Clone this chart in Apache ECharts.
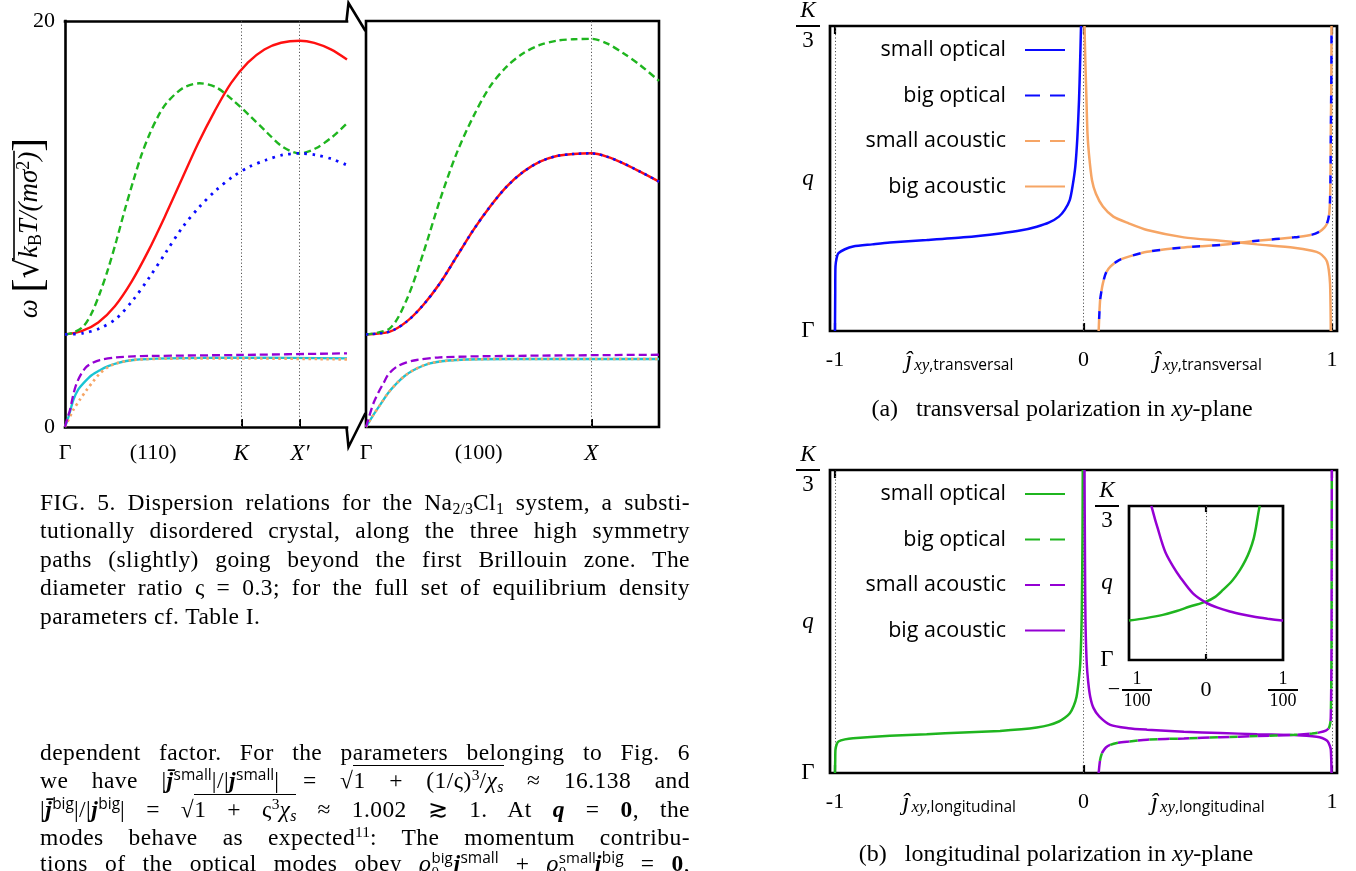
<!DOCTYPE html>
<html>
<head>
<meta charset="utf-8">
<title>Dispersion relations</title>
<script src="https://cdn.jsdelivr.net/npm/echarts@6/dist/echarts.min.js"></script>
<style>
html,body{margin:0;padding:0;background:#fff;}
#wrap{position:relative;width:1356px;height:871px;overflow:hidden;background:#fff;}
#chart{position:absolute;left:0;top:0;width:1356px;height:871px;}
.ln{position:absolute;left:40px;width:650px;height:29px;line-height:29px;font-family:'Liberation Serif',serif;font-size:23.5px;letter-spacing:0.45px;color:#000;text-align:justify;text-align-last:justify;white-space:nowrap;}
.ln.last{text-align:left;text-align-last:left;}
.sb{font-size:0.68em;vertical-align:-0.28em;line-height:0;letter-spacing:0;}
.sp{font-size:0.66em;vertical-align:0.5em;line-height:0;letter-spacing:0;}
.sans{font-family:'Open Sans',sans-serif;}
.ov{border-top:1.5px solid #000;padding-top:1px;line-height:1;}
.stk{position:relative;display:inline-block;height:16px;vertical-align:baseline;}
.stk .u,.stk .d{position:absolute;left:0;font-size:15px;line-height:15px;letter-spacing:0;}
.stk .u{bottom:6px;}
.stk .d{top:10px;}
</style>
</head>
<body>
<div id="wrap">
  <div id="chart"></div>
  <div class="ln" style="top:488px">FIG. 5. Dispersion relations for the Na<span class="sb">2/3</span>Cl<span class="sb">1</span> system, a substi-</div>
  <div class="ln" style="top:516px">tutionally disordered crystal, along the three high symmetry</div>
  <div class="ln" style="top:545px">paths (slightly) going beyond the first Brillouin zone. The</div>
  <div class="ln" style="top:573px">diameter ratio ς = 0.3; for the full set of equilibrium density</div>
  <div class="ln last" style="top:602px">parameters cf. Table I.</div>

  <div class="ln" style="top:738px">dependent factor. For the parameters belonging to Fig. 6</div>
  <div class="ln" style="top:766px">we have |<b><i>j̄</i></b><span class="sp sans">small</span>|/|<b><i>j</i></b><span class="sp sans">small</span>| = √<span class="ov">1 + (1/ς)<span class="sp">3</span>/<i>χ</i><span class="sb"><i>s</i></span></span> ≈ 16.138 and</div>
  <div class="ln" style="top:795px">|<b><i>j̄</i></b><span class="sp sans">big</span>|/|<b><i>j</i></b><span class="sp sans">big</span>| = √<span class="ov">1 + ς<span class="sp">3</span><i>χ</i><span class="sb"><i>s</i></span></span> ≈ 1.002 ≳ 1. At <b><i>q</i></b> = <b>0</b>, the</div>
  <div class="ln" style="top:823px">modes behave as expected<span class="sp">11</span>: The momentum contribu-</div>
  <div class="ln" style="top:849px">tions of the optical modes obey <i>ϱ</i><span class="stk" style="width:22px"><span class="u sans">big</span><span class="d">0</span></span><b><i>j</i></b><span class="sp sans">small</span> + <i>ϱ</i><span class="stk" style="width:36px"><span class="u sans">small</span><span class="d">0</span></span><b><i>j</i></b><span class="sp sans">big</span> = <b>0</b>,</div>
</div>
<script>
// ---------------- data ----------------
// left panel 1: path (110), q from Γ, omega values
const p110Max = 1.697;
const p110LabelValues = [0, 0.53, 1.0607, 1.4142];
const p110Labels = ['Γ', '(110)', 'K', 'X′'];
const p110Marks = [1.0607, 1.4142];
const p110Red = [[0,4.56],[0.1,4.72],[0.2,5.15],[0.3,5.95],[0.4,7.15],[0.5,8.65],[0.6,10.35],[0.7,12.15],[0.8,13.95],[0.9,15.55],[1.0,16.95],[1.1,17.95],[1.2,18.6],[1.3,18.93],[1.414,19.03],[1.5,18.92],[1.6,18.6],[1.697,18.1]];
const p110Green = [[0,4.56],[0.05,4.65],[0.11,4.95],[0.16,5.6],[0.21,6.6],[0.26,7.8],[0.31,9.2],[0.36,10.7],[0.41,12.1],[0.46,13.4],[0.51,14.45],[0.56,15.3],[0.61,15.95],[0.71,16.7],[0.81,16.93],[0.91,16.73],[1.01,16.1],[1.11,15.35],[1.21,14.55],[1.31,13.8],[1.414,13.48],[1.51,13.73],[1.61,14.3],[1.697,14.96]];
const p110Blue = [[0,4.56],[0.11,4.62],[0.21,4.86],[0.31,5.35],[0.41,6.26],[0.51,7.4],[0.61,8.64],[0.71,9.87],[0.81,10.85],[0.91,11.67],[1.01,12.33],[1.11,12.82],[1.21,13.15],[1.31,13.4],[1.414,13.48],[1.51,13.4],[1.61,13.19],[1.697,12.9]];
const p110Purple = [[0,0],[0.015,0.45],[0.03,0.84],[0.05,1.6],[0.07,2.15],[0.1,2.65],[0.13,2.97],[0.17,3.18],[0.21,3.3],[0.31,3.43],[0.41,3.48],[0.51,3.5],[1.06,3.55],[1.697,3.63]];
const p110Cyan = [[0,0],[0.025,0.6],[0.05,1.33],[0.08,1.85],[0.11,2.15],[0.16,2.55],[0.21,2.8],[0.26,3.0],[0.31,3.14],[0.41,3.3],[0.61,3.38],[1.06,3.42],[1.697,3.38]];
const p110Orange = [[0,0],[0.05,0.84],[0.09,1.35],[0.13,1.82],[0.17,2.25],[0.21,2.64],[0.26,2.95],[0.31,3.14],[0.41,3.3],[0.61,3.37],[1.06,3.38],[1.697,3.33]];
// left panel 2: path (100)
const p100Max = 1.3;
const p100LabelValues = [0, 0.5, 1.0];
const p100Labels = ['Γ', '(100)', 'X'];
const p100Marks = [1.0];
const p100Green = [[0,4.56],[0.106,4.86],[0.18,6.26],[0.254,8.56],[0.328,11.18],[0.402,13.48],[0.476,15.29],[0.55,16.77],[0.624,17.75],[0.698,18.41],[0.772,18.82],[0.846,19.03],[0.92,19.1],[1.0,19.12],[1.068,18.9],[1.142,18.41],[1.216,17.83],[1.3,17.05]];
const p100RedBlue = [[0,4.56],[0.106,4.7],[0.18,5.19],[0.254,6.01],[0.328,7.08],[0.402,8.39],[0.476,9.7],[0.55,10.85],[0.624,11.84],[0.698,12.57],[0.772,13.07],[0.846,13.35],[0.92,13.45],[1.0,13.48],[1.068,13.32],[1.142,12.99],[1.216,12.58],[1.3,12.09]];
const p100Purple = [[0,0],[0.015,0.55],[0.033,1.17],[0.055,1.7],[0.077,2.15],[0.1,2.6],[0.136,2.97],[0.18,3.18],[0.225,3.3],[0.328,3.43],[0.624,3.5],[1.3,3.56]];
const p100CyanOrange = [[0,0],[0.03,0.55],[0.062,1.08],[0.1,1.7],[0.136,2.15],[0.17,2.5],[0.21,2.8],[0.284,3.14],[0.402,3.3],[0.624,3.35],[1.3,3.35]];
const omegaMin = 0, omegaMax = 20;

// right panels: polarisation component j (x) vs q (y)
const jValues = [-1, -0.5, 0, 0.5, 1];
const jLabels = ['-1', 'J', '0', 'J', '1'];
const jMarks = [-1, 0, 1];
const qValues = [0, 0.5, 1];
const qLabels = ['Γ', 'q', 'K/3'];
const seriesNames = ['small optical', 'big optical', 'small acoustic', 'big acoustic'];

const aSmallOptical = [[-1.0,0.0],[-0.999,0.12],[-0.998,0.211],[-0.993,0.24],[-0.986,0.255],[-0.96,0.268],[-0.927,0.277],[-0.85,0.284],[-0.779,0.29],[-0.631,0.298],[-0.483,0.307],[-0.336,0.32],[-0.25,0.33],[-0.188,0.342],[-0.14,0.355],[-0.099,0.375],[-0.075,0.398],[-0.055,0.43],[-0.043,0.48],[-0.033,0.539],[-0.025,0.63],[-0.018,0.757],[-0.014,0.87],[-0.010,1.0]];
const aBigAcoustic = [[0.004,1.0],[0.008,0.87],[0.012,0.757],[0.016,0.648],[0.022,0.58],[0.034,0.495],[0.05,0.45],[0.078,0.408],[0.12,0.375],[0.182,0.353],[0.256,0.331],[0.404,0.307],[0.551,0.296],[0.699,0.284],[0.847,0.273],[0.92,0.263],[0.95,0.255],[0.97,0.24],[0.98,0.227],[0.987,0.2],[0.992,0.156],[0.994,0.08],[0.995,0.0]];
const aBigOptical = [[0.061,0.0],[0.064,0.06],[0.067,0.102],[0.072,0.13],[0.078,0.156],[0.09,0.19],[0.108,0.211],[0.14,0.231],[0.182,0.244],[0.256,0.26],[0.404,0.274],[0.551,0.282],[0.699,0.296],[0.847,0.307],[0.92,0.316],[0.95,0.326],[0.97,0.34],[0.98,0.353],[0.988,0.38],[0.992,0.43],[0.994,0.52],[0.995,0.648],[0.997,0.8],[0.998,1.0]];
const aSmallAcoustic = aBigOptical.map(p => p.slice());

const bSmallOptical = [[-1.0,0.0],[-0.999,0.04],[-0.998,0.077],[-0.993,0.095],[-0.986,0.104],[-0.96,0.111],[-0.927,0.115],[-0.779,0.123],[-0.631,0.128],[-0.483,0.134],[-0.336,0.139],[-0.25,0.144],[-0.188,0.150],[-0.14,0.158],[-0.099,0.170],[-0.075,0.182],[-0.055,0.197],[-0.04,0.22],[-0.028,0.252],[-0.02,0.3],[-0.013,0.362],[-0.007,0.526],[-0.004,0.8],[-0.003,1.0]];
const bBigAcoustic = [[0.004,1.0],[0.006,0.7],[0.008,0.5],[0.013,0.362],[0.019,0.3],[0.027,0.252],[0.04,0.215],[0.064,0.186],[0.108,0.159],[0.18,0.148],[0.256,0.143],[0.404,0.136],[0.551,0.132],[0.699,0.128],[0.847,0.125],[0.92,0.121],[0.95,0.118],[0.97,0.112],[0.983,0.104],[0.991,0.09],[0.995,0.077],[0.997,0.04],[0.998,0.0]];
const bBigOptical = [[0.061,0.0],[0.064,0.025],[0.067,0.044],[0.072,0.06],[0.078,0.071],[0.09,0.084],[0.108,0.093],[0.14,0.1],[0.182,0.104],[0.256,0.11],[0.404,0.114],[0.551,0.118],[0.699,0.122],[0.847,0.126],[0.92,0.13],[0.95,0.134],[0.975,0.14],[0.987,0.148],[0.993,0.165],[0.995,0.186],[0.997,0.3],[0.998,0.47],[0.999,1.0]];
const bSmallAcoustic = bBigOptical.map(p => p.slice());

// inset of (b)
const insetValues = [-0.01, 0, 0.01];
const insetLabels = ['−1/100', '0', '1/100'];
const insetMarks = [0];
const insetSmallOptical = [[-0.01,0.256],[-0.0078,0.272],[-0.0056,0.293],[-0.0038,0.318],[-0.0021,0.347],[0,0.379],[0.0012,0.41],[0.0022,0.455],[0.0034,0.515],[0.0044,0.584],[0.0051,0.645],[0.0057,0.713],[0.0062,0.79],[0.0065,0.864],[0.0069,0.983],[0.007,1.0]];
const insetBigAcoustic = [[-0.0071,1.0],[-0.007,0.983],[-0.0066,0.91],[-0.0062,0.843],[-0.0057,0.76],[-0.0052,0.692],[-0.0043,0.61],[-0.0034,0.541],[-0.0017,0.433],[0,0.373],[0.0015,0.34],[0.0031,0.315],[0.0046,0.297],[0.0061,0.282],[0.008,0.268],[0.0099,0.256],[0.01,0.255]];

// ---------------- styling ----------------
const SERIF = 'Liberation Serif';
const SANS = 'Open Sans';
const COL = {red:'#ff1010', green:'#1fb51f', blue:'#0a0aff', purple:'#9400d3', cyan:'#18c4d4', orange:'#f6a565', grey:'#555'};

function near(a, b) { return Math.abs(a - b) < 1e-6; }
function idxOf(arr, v) { for (let i = 0; i < arr.length; i++) if (near(arr[i], v)) return i; return -1; }
const mctx = document.createElement('canvas').getContext('2d');
function tw(font, s) { mctx.font = font; return mctx.measureText(s).width; }

const fracRich = {
  k: {fontFamily: SERIF, fontStyle: 'italic', fontSize: 23, lineHeight: 26, width: 26, align: 'center', color: '#000'},
  bar: {fontSize: 1, lineHeight: 4, height: 2, width: 24, backgroundColor: '#000'},
  t: {fontFamily: SERIF, fontSize: 23, lineHeight: 26, width: 26, align: 'center', color: '#000'},
  g: {fontFamily: SERIF, fontSize: 23, color: '#000'},
  q: {fontFamily: SERIF, fontStyle: 'italic', fontSize: 23, color: '#000'}
};
function qFormatter(v) {
  const s = qLabels[idxOf(qValues, v)];
  if (s === 'K/3') return '{k|K}\n{bar| }\n{t|3}';
  if (s === 'q') return '{q|q}';
  return '{g|' + s + '}';
}
function jFormatter(word) {
  return function (v) {
    const s = jLabels[idxOf(jValues, v)];
    if (s === 'J') return '{j|ĵ}{x|xy}{s|,' + word + '}';
    return '{n|' + s + '}';
  };
}
const jRich = {
  n: {fontFamily: SERIF, fontSize: 22, lineHeight: 28, color: '#000'},
  j: {fontFamily: SERIF, fontStyle: 'italic', fontSize: 25, lineHeight: 28, verticalAlign: 'bottom', color: '#000'},
  x: {fontFamily: SERIF, fontStyle: 'italic', fontSize: 17, lineHeight: 14, verticalAlign: 'bottom', color: '#000', padding: [0, 0, 0, 2]},
  s: {fontFamily: SANS, fontSize: 15.5, lineHeight: 14, verticalAlign: 'bottom', color: '#000'}
};
function pathFormatter(values, labels) {
  return function (v) {
    const s = labels[idxOf(values, v)];
    if (s === 'K' || s === 'X′' || s === 'X') return '{i|' + s + '}';
    return '{r|' + s + '}';
  };
}
const pathRich = {
  r: {fontFamily: SERIF, fontSize: 22, color: '#000'},
  i: {fontFamily: SERIF, fontStyle: 'italic', fontSize: 23, color: '#000'}
};
function insetFormatter(v) {
  const s = insetLabels[idxOf(insetValues, v)];
  if (s === '0') return '{z|0}';
  const parts = s.replace('−', '').split('/');
  if (s.charAt(0) === '−') return '{pad| }{num|' + parts[0] + '}\n{m|−}{bar| }\n{pad| }{num|' + parts[1] + '}';
  return '{num|' + parts[0] + '}\n{bar| }\n{num|' + parts[1] + '}';
}
const insetRich = {
  z: {fontFamily: SERIF, fontSize: 22, lineHeight: 40, color: '#000'},
  num: {fontFamily: SERIF, fontSize: 18, lineHeight: 18, width: 32, align: 'center', color: '#000'},
  pad: {fontSize: 1, lineHeight: 18, width: 16},
  m: {fontFamily: SERIF, fontSize: 22, lineHeight: 4, width: 16, align: 'center', color: '#000'},
  bar: {fontSize: 1, lineHeight: 4, height: 2, width: 30, backgroundColor: '#000'}
};

// y-axis title of the dispersion panels: ω [ √(k_B T/(m σ²)) ] with measured vinculum
const NF = 27, NBR = 42, NRT = 32, NSS = 18;
const fIt = 'italic ' + NF + 'px "' + SERIF + '"';
const fRm = NF + 'px "' + SERIF + '"';
const wOmega = tw(fIt, 'ω') + tw(fRm, ' ') + tw(NBR + 'px "' + SERIF + '"', '[') + tw(NRT + 'px "DejaVu Serif"', '√');
const wRad = tw(fIt, 'k') + tw(NSS + 'px "' + SERIF + '"', 'B') + tw(fIt, 'T/(mσ') + tw(NSS + 'px "' + SERIF + '"', '2') + tw(fIt, ')');
const wEnd = tw(NBR + 'px "' + SERIF + '"', ']');
const omegaName = '{g| }{v| }{e| }\n{w|ω}{sp| }{br|[}{rt|√}{t|k}{sub|B}{t|T/(mσ}{sup|2}{t|)}{br|]}';
const omegaRich = {
  g: {fontSize: 1, lineHeight: 2, width: wOmega - 2},
  v: {fontSize: 1, lineHeight: 2, height: 1.6, width: wRad + 3, backgroundColor: '#000'},
  e: {fontSize: 1, lineHeight: 2, width: wEnd - 1},
  w: {fontFamily: SERIF, fontStyle: 'italic', fontSize: NF, lineHeight: 30, fill: '#000'},
  sp: {fontFamily: SERIF, fontSize: NF, lineHeight: 30},
  br: {fontFamily: SERIF, fontSize: NBR, lineHeight: 30, fill: '#000'},
  rt: {fontFamily: 'DejaVu Serif', fontSize: NRT, lineHeight: 30, fill: '#000'},
  t: {fontFamily: SERIF, fontStyle: 'italic', fontSize: NF, lineHeight: 30, fill: '#000'},
  sub: {fontFamily: SERIF, fontSize: NSS, lineHeight: 20, verticalAlign: 'bottom', fill: '#000'},
  sup: {fontFamily: SERIF, fontSize: NSS, lineHeight: 20, verticalAlign: 'top', fill: '#000'}
};

const noAxis = {axisLine: {show: false, onZero: false}, axisTick: {show: false}, axisLabel: {show: false}, splitLine: {show: false}};
const blackLine = {color: '#000', width: 2.6, cap: 'square'};

function curve(name, data, xi, yi, color, width, type, z, extra) {
  return Object.assign({
    name: name, type: 'line', xAxisIndex: xi, yAxisIndex: yi, data: data,
    symbol: 'none', showSymbol: false, smooth: 0.3, z: z, silent: true,
    lineStyle: {color: color, width: width, type: type, cap: 'butt'},
    itemStyle: {color: color}, emphasis: {disabled: true}
  }, extra || {});
}
function marks(xi, yi, values) {
  return {
    name: 'marks' + xi, type: 'line', xAxisIndex: xi, yAxisIndex: yi, data: [], silent: true, z: 1,
    markLine: {
      z: 1, silent: true, symbol: ['none', 'none'], animation: false, label: {show: false},
      lineStyle: {color: COL.grey, width: 1, type: [1.2, 2.2]},
      emphasis: {disabled: true},
      data: values.map(v => ({xAxis: v}))
    }
  };
}
function rightX(grid, pos, word) {
  const base = {gridIndex: grid, type: 'value', min: -1.02, max: 1.02, position: pos,
    axisLine: {show: false, onZero: false}, splitLine: {show: false},
    axisTick: {show: true, inside: true, length: 8, customValues: jMarks, lineStyle: {color: '#000', width: 2.2}}};
  if (pos === 'bottom') base.axisLabel = {show: true, customValues: jValues, formatter: jFormatter(word), rich: jRich, margin: 15};
  else base.axisLabel = {show: false};
  return base;
}
function rightY(grid) {
  return {gridIndex: grid, type: 'value', min: 0, max: 1, axisLine: {show: false, onZero: false}, axisTick: {show: false},
    splitLine: {show: false}, axisLabel: {show: true, customValues: qValues, formatter: qFormatter, rich: fracRich, align: 'center', margin: 22}};
}
const B = '\u200b';
function legendData(suffix) {
  return seriesNames.map(function (n) {
    const item = {name: n + suffix};
    if (n === 'big optical') item.lineStyle = {type: [15, 10], dashOffset: 0};
    if (n === 'small acoustic') item.lineStyle = {type: [15, 10], dashOffset: 0};
    return item;
  });
}
const legendBase = {orient: 'vertical', right: 290, align: 'right', padding: 0,
  itemWidth: 40, itemHeight: 14, itemGap: 23.5, selectedMode: false,
  itemStyle: {color: 'rgba(0,0,0,0)', borderWidth: 0, opacity: 0},
  textStyle: {fontFamily: SANS, fontSize: 21.5, lineHeight: 22, color: '#000', padding: [0, 14, 0, 0]}};
const gridBase = {containLabel: false, outerBoundsMode: 'none'};

const option = {
  animation: false,
  backgroundColor: '#fff',
  grid: [
    Object.assign({left: 65, top: 21, width: 282, height: 406}, gridBase),
    Object.assign({left: 366, top: 21, width: 293, height: 406, show: true, borderColor: '#000', borderWidth: 2.6}, gridBase),
    Object.assign({left: 830, top: 26, width: 507, height: 305, show: true, borderColor: '#000', borderWidth: 2.7}, gridBase),
    Object.assign({left: 830, top: 470, width: 507, height: 303, show: true, borderColor: '#000', borderWidth: 2.7}, gridBase),
    Object.assign({left: 1129, top: 506, width: 154, height: 154, show: true, borderColor: '#000', borderWidth: 2.7, backgroundColor: '#fff'}, gridBase)
  ],
  xAxis: [
    {gridIndex: 0, type: 'value', min: 0, max: p110Max, position: 'bottom',
      axisLine: {show: true, onZero: false, lineStyle: blackLine}, splitLine: {show: false},
      axisTick: {show: true, inside: true, length: 8, customValues: p110Marks, lineStyle: {color: '#000', width: 2}},
      axisLabel: {show: true, customValues: p110LabelValues, formatter: pathFormatter(p110LabelValues, p110Labels), rich: pathRich, margin: 15}},
    Object.assign({gridIndex: 0, type: 'value', min: 0, max: p110Max, position: 'top'}, noAxis, {axisLine: {show: true, onZero: false, lineStyle: blackLine}}),
    {gridIndex: 1, type: 'value', min: 0, max: p100Max, position: 'bottom',
      axisLine: {show: false, onZero: false}, splitLine: {show: false},
      axisTick: {show: true, inside: true, length: 8, customValues: p100Marks, lineStyle: {color: '#000', width: 2}},
      axisLabel: {show: true, customValues: p100LabelValues, formatter: pathFormatter(p100LabelValues, p100Labels), rich: pathRich, margin: 15}},
    rightX(2, 'bottom', 'transversal'),
    rightX(2, 'top', 'transversal'),
    rightX(3, 'bottom', 'longitudinal'),
    rightX(3, 'top', 'longitudinal'),
    {gridIndex: 4, type: 'value', min: -0.01, max: 0.01, position: 'bottom', axisLine: {show: false, onZero: false}, splitLine: {show: false},
      axisTick: {show: true, inside: true, length: 6, customValues: insetMarks, lineStyle: {color: '#000', width: 2.2}},
      axisLabel: {show: true, customValues: insetValues, formatter: insetFormatter, rich: insetRich, margin: 10}},
    {gridIndex: 4, type: 'value', min: -0.01, max: 0.01, position: 'top', axisLine: {show: false, onZero: false}, splitLine: {show: false},
      axisTick: {show: true, inside: true, length: 6, customValues: insetMarks, lineStyle: {color: '#000', width: 2.2}},
      axisLabel: {show: false}}
  ],
  yAxis: [
    {gridIndex: 0, type: 'value', min: omegaMin, max: omegaMax, interval: 20,
      axisLine: {show: true, onZero: false, lineStyle: blackLine}, axisTick: {show: false}, splitLine: {show: false},
      axisLabel: {show: true, fontFamily: SERIF, fontSize: 22, color: '#000', margin: 10}},
    Object.assign({gridIndex: 1, type: 'value', min: omegaMin, max: omegaMax}, noAxis),
    rightY(2),
    rightY(3),
    rightY(4)
  ],
  legend: [
    Object.assign({data: legendData(''), top: 39}, legendBase),
    Object.assign({data: legendData(B), top: 483}, legendBase)
  ],
  graphic: [
    {type: 'text', silent: true, x: 29, y: 228, rotation: Math.PI / 2,
      style: {text: omegaName, rich: omegaRich, align: 'center', verticalAlign: 'middle', fill: '#000', fontFamily: SERIF, fontSize: NF}},
    {type: 'polyline', silent: true, z: 10, shape: {points: [[346.5, 21], [348.5, 3], [365.5, 31]]}, style: {stroke: '#000', lineWidth: 2.6, fill: null, lineJoin: 'miter'}},
    {type: 'polyline', silent: true, z: 10, shape: {points: [[346.5, 427], [348.5, 447], [365.5, 413]]}, style: {stroke: '#000', lineWidth: 2.6, fill: null, lineJoin: 'miter'}},
    {type: 'text', silent: true, x: 1062, y: 410, style: {text: '(a)   transversal polarization in {i|xy}-plane', fontFamily: SERIF, fontSize: 24, fill: '#000', align: 'center', verticalAlign: 'middle',
      rich: {i: {fontFamily: SERIF, fontStyle: 'italic', fontSize: 24, fill: '#000'}}}},
    {type: 'text', silent: true, x: 1056, y: 855, style: {text: '(b)   longitudinal polarization in {i|xy}-plane', fontFamily: SERIF, fontSize: 24, fill: '#000', align: 'center', verticalAlign: 'middle',
      rich: {i: {fontFamily: SERIF, fontStyle: 'italic', fontSize: 24, fill: '#000'}}}}
  ],
  series: [
    // panel (110)
    marks(0, 0, p110Marks),
    curve('(110) acoustic A', p110Cyan, 0, 0, COL.cyan, 2.3, 'solid', 2),
    curve('(110) acoustic B', p110Orange, 0, 0, COL.orange, 2.7, [2.5, 3.5], 3),
    curve('(110) acoustic C', p110Purple, 0, 0, COL.purple, 2.3, [8, 4], 3),
    curve('(110) optical A', p110Red, 0, 0, COL.red, 2.4, 'solid', 3),
    curve('(110) optical B', p110Green, 0, 0, COL.green, 2.4, [7, 4], 3),
    curve('(110) optical C', p110Blue, 0, 0, COL.blue, 2.8, [2.6, 5.5], 3),
    // panel (100)
    marks(2, 1, p100Marks),
    curve('(100) acoustic A', p100CyanOrange, 2, 1, COL.cyan, 2.3, 'solid', 2),
    curve('(100) acoustic B', p100CyanOrange, 2, 1, COL.orange, 2.5, [2.5, 3.5], 3),
    curve('(100) acoustic C', p100Purple, 2, 1, COL.purple, 2.3, [8, 4], 3),
    curve('(100) optical A', p100RedBlue, 2, 1, COL.red, 2.5, 'solid', 3),
    curve('(100) optical B', p100Green, 2, 1, COL.green, 2.4, [7, 4], 3),
    curve('(100) optical C', p100RedBlue, 2, 1, COL.blue, 2.5, [2.5, 4.5], 4),
    // panel (a)
    marks(3, 2, jMarks),
    curve('small optical', aSmallOptical, 3, 2, COL.blue, 2.5, 'solid', 3, {smooth: 0.25}),
    curve('big acoustic', aBigAcoustic, 3, 2, COL.orange, 2.5, 'solid', 3, {smooth: 0.25}),
    curve('small acoustic', aSmallAcoustic, 3, 2, COL.orange, 2.5, [12, 8], 3, {smooth: 0.25}),
    curve('big optical', aBigOptical, 3, 2, COL.blue, 2.5, [8, 12], 4, {smooth: 0.25, lineStyle: {color: COL.blue, width: 2.5, type: [8, 12], dashOffset: -12}}),
    // panel (b)
    marks(5, 3, jMarks),
    curve('small optical' + B, bSmallOptical, 5, 3, COL.green, 2.5, 'solid', 3, {smooth: 0.25}),
    curve('big acoustic' + B, bBigAcoustic, 5, 3, COL.purple, 2.5, 'solid', 3, {smooth: 0.25}),
    curve('small acoustic' + B, bSmallAcoustic, 5, 3, COL.purple, 2.5, [12, 8], 3, {smooth: 0.25}),
    curve('big optical' + B, bBigOptical, 5, 3, COL.green, 2.5, [8, 12], 4, {smooth: 0.25, lineStyle: {color: COL.green, width: 2.5, type: [8, 12], dashOffset: -12}}),
    // inset
    marks(7, 4, insetMarks),
    curve('inset small optical', insetSmallOptical, 7, 4, COL.green, 2.5, 'solid', 5, {smooth: 0.3}),
    curve('inset big acoustic', insetBigAcoustic, 7, 4, COL.purple, 2.5, 'solid', 5, {smooth: 0.3})
  ]
};

const chart = echarts.init(document.getElementById('chart'), null, {renderer: 'canvas'});
chart.setOption(option);
</script>
</body>
</html>
